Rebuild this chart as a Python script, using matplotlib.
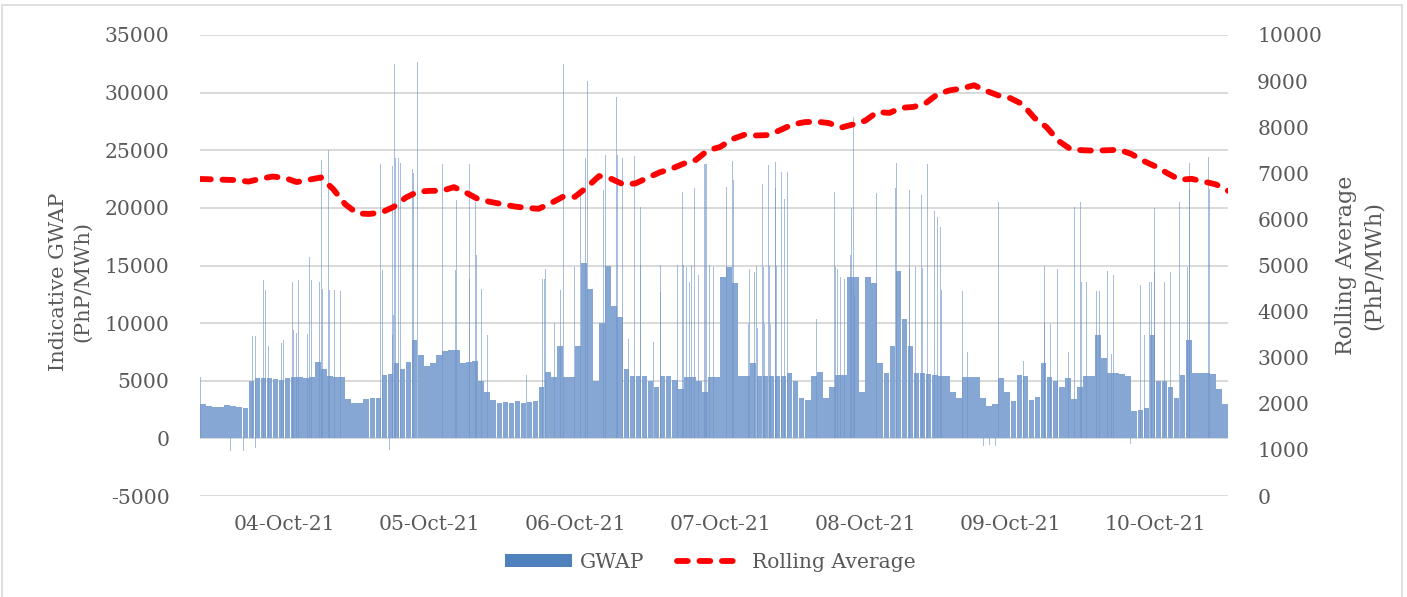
import numpy as np
import matplotlib
matplotlib.use("Agg")
import matplotlib.pyplot as plt
from matplotlib.lines import Line2D
from matplotlib.patches import Patch, Rectangle

plt.rcParams["axes.unicode_minus"] = False

# ---------------- data ----------------
# hourly GWAP base level, starting 03-Oct-21 10:00 (PhP/MWh)
gwap_hourly = [
    3000, 2800, 2700, 2750, 2900, 2800, 2750, 2650,
    5000, 5200, 5250, 5200, 5150, 5100, 5200, 5300, 5300, 5250, 5300, 6600, 6000,
    5400, 5300, 5300, 3400, 3100, 3100, 3400, 3500, 3500,
    5500, 5600, 6500, 6000, 6600, 8500, 7200, 6300, 6500, 7200, 7600, 7700, 7700,
    6500, 6600, 6700, 5000, 4000, 3300, 3100, 3150, 3100, 3200, 3100, 3150, 3200,
    4500, 5800, 5300, 8000, 5300, 5300, 8000, 15200,
    13000, 5000, 10000, 15000, 11500, 10500, 6000, 5400, 5400, 5400, 5000, 4500,
    5400, 5400, 5100, 4300, 5300, 5300, 5000, 4000, 5300, 5300,
    14000, 14900, 13500, 5400, 5400, 6500, 5400, 5400, 5400, 5400, 5400, 5700,
    5000, 3500, 3300, 5400, 5800, 3500, 4500, 5500, 5500,
    14000, 14000, 4000, 14000, 13500, 6500, 5700, 8000, 14500, 10400, 8000, 5700,
    5700, 5600, 5500, 5400, 5400, 4000, 3500, 5300, 5300, 5300,
    3500, 2800, 3000, 5250, 4000, 3200, 5540, 5400, 3300, 3600, 6500, 5300,
    5000, 4500, 5200, 3400, 4500, 5400, 5400, 9000, 7000,
    5700, 5700, 5600, 5400, 2400, 2500, 2600, 9000, 5000, 5000, 4500, 3500,
    5500, 8500, 5700, 5700, 5700, 5600, 4300, 3000,
]

# individual 5-minute price spikes / dips: time (hours from start) and value
spike_hour = [
    0.1, 5.1, 7.2, 9.1, 8.65, 9.1, 10.5, 10.9, 11.4, 13.4, 13.8, 15.3, 15.4, 15.9,
    16.3, 17.8, 18.1, 18.4, 19.7, 20.1, 20.3, 21.2, 21.4, 22.2, 23.3, 29.9, 30.1,
    31.3, 31.8, 32.0, 31.9, 32.2, 32.4, 32.8, 33.2, 35.1, 35.3, 35.9, 40.1, 42.3,
    42.45, 44.5, 44.6, 45.6, 45.7, 46.5, 47.5, 54.0, 56.6, 57.0, 57.2, 58.6, 59.2,
    59.6, 60.1, 61.9, 63.0, 63.8, 64.1, 66.7, 67.0, 68.9, 69.1, 69.8, 70.8, 71.8,
    72.8, 72.9, 75.0, 76.1, 76.2, 78.9, 79.8, 79.9, 80.5, 80.9, 81.3, 81.8, 82.5,
    83.35, 83.55, 83.8, 84.3, 84.9, 87.1, 88.0, 88.2, 90.7, 90.8, 91.7, 92.0, 92.2,
    93.0, 93.2, 93.4, 94.0, 94.1, 94.3, 95.1, 95.2, 95.4, 96.2, 96.7, 97.2, 102.0,
    105.0, 105.1, 105.5, 105.9, 106.6, 107.5, 107.8, 108.1, 108.3, 111.9, 115.0,
    115.2, 117.3, 117.4, 118.4, 119.3, 119.4, 120.3, 121.4, 122.0, 122.5, 122.55,
    126.1, 126.9, 129.5, 130.5, 131.6, 132.0, 136.2, 139.6, 139.7, 140.6, 141.8,
    143.6, 144.6, 144.7, 145.6, 145.7, 146.6, 148.3, 148.7, 150.1, 150.8, 151.0,
    153.8, 155.6, 156.2, 157.0, 157.3, 157.8, 157.9, 159.5, 160.5, 161.9, 163.3,
    163.6, 163.7, 166.8, 166.9,
]
spike_val = [
    5300, -1100, -1100, -800, 8850, 8850, 13760, 12900, 8000, 8300, 8500, 13600, 9400, 9150,
    13760, 9050, 15700, 13760, 13600, 24150, 13000, 25000, 12900, 12900, 12800, 23800, 14600,
    -1040, 9000, 10700, 23600, 32500, 24300, 24300, 23900, 23400, 23000, 32650, 23800, 14600,
    20700, 23800, 13800, 20550, 15900, 13000, 8950, 5540, 13800, 13800, 14700, 10000, 19800,
    12900, 32500, 14900, 21100, 24300, 31000, 21550, 24600, 29600, 24600, 24300, 8600, 24500,
    20100, 15060, 8400, 15060, 12700, 15060, 21400, 15060, 14900, 13600, 15060, 21750, 14200,
    23800, 23800, 23800, 15060, 14900, 21800, 24100, 22400, 9900, 14700, 14400, 15000, 9600,
    22100, 14900, 9900, 23700, 15000, 9900, 24000, 21700, 15000, 23100, 20800, 23100, 10400,
    21400, 14900, 14700, 14000, 13800, 15900, 19950, 27900, 12400, 21250, 21700,
    23900, 21550, 14770, 14900, 21100, 14770, 23800, 19750, 19200, 18300, 12900,
    12750, 7500, -660, -600, -650, 20550, 6700, 15000, 10000, 9900, 14700,
    7500, 20100, 18250, 20500, 13600, 13600, 12750, 12800, 14500, 7300, 14200,
    -500, 13350, 9000, 13600, 13600, 20000, 14400, 13600, 14400, 20550, 14900,
    23900, 21650, 24400, 21650,
]

# rolling average, every 2 hours from start (PhP/MWh)
rolling_avg = [
    6876, 6870, 6860, 6853, 6820, 6880, 6930, 6900, 6810, 6860, 6910, 6660,
    6330, 6130, 6118, 6150, 6270, 6470, 6600, 6620, 6620, 6700, 6580, 6440,
    6380, 6330, 6280, 6250, 6230, 6350, 6490, 6490, 6700, 6940, 6880, 6760,
    6780, 6900, 7020, 7100, 7210, 7290, 7500, 7570, 7740, 7835, 7820, 7830,
    7940, 8060, 8110, 8120, 8090, 7990, 8060, 8140, 8330, 8310, 8420, 8440,
    8520, 8720, 8800, 8840, 8910, 8790, 8690, 8630, 8500, 8200, 8000, 7700,
    7520, 7500, 7490, 7500, 7510, 7420, 7270, 7150, 7000, 6860, 6880, 6820,
    6760, 6620,
]

date_labels = ["04-Oct-21", "05-Oct-21", "06-Oct-21", "07-Oct-21",
               "08-Oct-21", "09-Oct-21", "10-Oct-21"]
first_midnight_hour = 14   # 04-Oct-21 00:00 in hours from start
total_hours = 170

# ---------------- figure ----------------
W, H = 1407, 597
fig = plt.figure(figsize=(W / 100, H / 100), dpi=100)
fig.patch.set_facecolor("white")
fig.patches.append(Rectangle((2 / W, -0.01), 1400 / W, 1 - 5 / H + 0.01,
                             transform=fig.transFigure, fill=False,
                             edgecolor="#d9d9d9", lw=1.2))

font = "DejaVu Serif"
tcol = "#595959"
fs = 14.6

ax = fig.add_axes([200 / W, 1 - 496 / H, 1028 / W, 461 / H])
ax2 = ax.twinx()

x_base = np.arange(len(gwap_hourly)) + 0.5
ax.bar(x_base, gwap_hourly, width=0.93, color="#86a6d3", linewidth=0, zorder=2)
ax.bar(spike_hour, spike_val, width=0.16, color="#6f94c8", alpha=0.6,
       linewidth=0, zorder=3)

ax.set_xlim(0, total_hours)
ax.set_ylim(-5000, 35000)
ax.set_yticks(np.arange(-5000, 35001, 5000))
ax.yaxis.grid(True, color="#d9d9d9", lw=1.4, zorder=0)
ax.set_axisbelow(True)
ax.set_xticks([first_midnight_hour + 24 * k for k in range(len(date_labels))])
ax.set_xticklabels(date_labels)

x_roll = np.arange(len(rolling_avg)) * 2
ax2.plot(x_roll, rolling_avg, color="#ff0000", lw=4.2,
         linestyle=(0, (1.85, 2.0)), dash_capstyle="round",
         solid_capstyle="round", zorder=5)
ax2.set_ylim(0, 10000)
ax2.set_yticks(np.arange(0, 10001, 1000))
ax2.set_xlim(0, total_hours)

for a in (ax, ax2):
    for s in a.spines.values():
        s.set_visible(False)
    a.tick_params(length=0, labelsize=fs, labelcolor=tcol)
    for lab in a.get_xticklabels() + a.get_yticklabels():
        lab.set_fontfamily(font)
ax.tick_params(axis="y", pad=22)
ax.tick_params(axis="x", pad=14)
ax2.tick_params(axis="y", pad=21)

fig.text(71 / W, 1 - 282 / H, "Indicative GWAP\n(PhP/MWh)", rotation=90,
         ha="center", va="center", multialignment="center",
         fontsize=15, color=tcol, family=font, linespacing=1.35)
fig.text(1360 / W, 1 - 265 / H, "Rolling Average\n(PhP/MWh)", rotation=90,
         ha="center", va="center", multialignment="center",
         fontsize=16, color=tcol, family=font, linespacing=1.3)

handles = [Patch(facecolor="#4f81bd", edgecolor="none"),
           Line2D([0], [0], color="#ff0000", lw=4.2, linestyle=(0, (1.85, 2.0)),
                  dash_capstyle="round")]
leg = fig.legend(handles, ["GWAP", "Rolling Average"], loc="center",
                 bbox_to_anchor=(710 / W, 1 - 562 / H), ncol=2, frameon=False,
                 handlelength=3.3, handleheight=0.6, handletextpad=0.4,
                 columnspacing=1.6, prop={"family": font, "size": fs})
for t in leg.get_texts():
    t.set_color(tcol)

fig.savefig("out.png", dpi=100, facecolor="white")
